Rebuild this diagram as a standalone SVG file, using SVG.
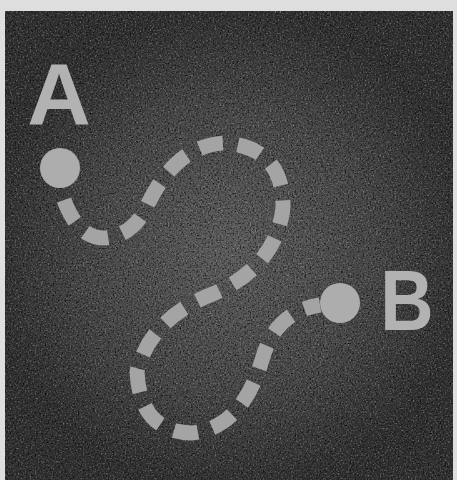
<svg xmlns="http://www.w3.org/2000/svg" width="457" height="480" viewBox="0 0 457 480">
<style>
.lbl{font-family:"Liberation Sans",Arial,sans-serif;font-weight:bold;fill:#b2b2b2}
.dot{fill:#adadad}
.route{fill:none;stroke:#a4a4a4;stroke-width:15;stroke-dasharray:24 15}
</style>
<defs>
<radialGradient id="glow" cx="230" cy="250" r="240" gradientUnits="userSpaceOnUse">
<stop offset="0" stop-color="#5c5c5c"/>
<stop offset="0.6" stop-color="#474747"/>
<stop offset="1" stop-color="#303030"/>
</radialGradient>
<filter id="darkspeck" x="0" y="0" width="100%" height="100%">
<feTurbulence type="fractalNoise" baseFrequency="0.6" numOctaves="2" seed="4"/>
<feColorMatrix type="matrix" values="0 0 0 0 0  0 0 0 0 0  0 0 0 0 0  3 0 0 0 -1.5"/>
</filter>
<filter id="lightspeck" x="0" y="0" width="100%" height="100%">
<feTurbulence type="fractalNoise" baseFrequency="0.6" numOctaves="2" seed="9"/>
<feColorMatrix type="matrix" values="0 0 0 0 0.75  0 0 0 0 0.75  0 0 0 0 0.75  3 0 0 0 -1.6"/>
</filter>
</defs>
<rect width="457" height="480" fill="#dedede"/>
<rect x="5" y="11" width="448" height="469" fill="url(#glow)"/>
<rect x="5" y="11" width="448" height="469" filter="url(#darkspeck)" opacity="0.7"/>
<rect x="5" y="11" width="448" height="469" filter="url(#lightspeck)" opacity="0.35"/>
<g id="connectors">
<path class="route" d="M64,200 Q 78,238 104,238 Q 132,236 146,208 Q 175,145 225,143 Q 284,148 283,208 Q 276,266 215,293 Q 150,318 137,372 Q 140,432 192,433 Q 242,428 262,360 Q 275,312 320,305"/>
</g>
<g id="nodeA">
<circle class="dot" cx="60" cy="168" r="20"/>
<text class="lbl" x="59" y="124" font-size="88" text-anchor="middle">A</text>
</g>
<g id="nodeB">
<circle class="dot" cx="340" cy="303" r="20"/>
<text class="lbl" x="407" y="330" font-size="86" text-anchor="middle" transform="translate(407 0) scale(0.86 1) translate(-407 0)">B</text>
</g>
</svg>
